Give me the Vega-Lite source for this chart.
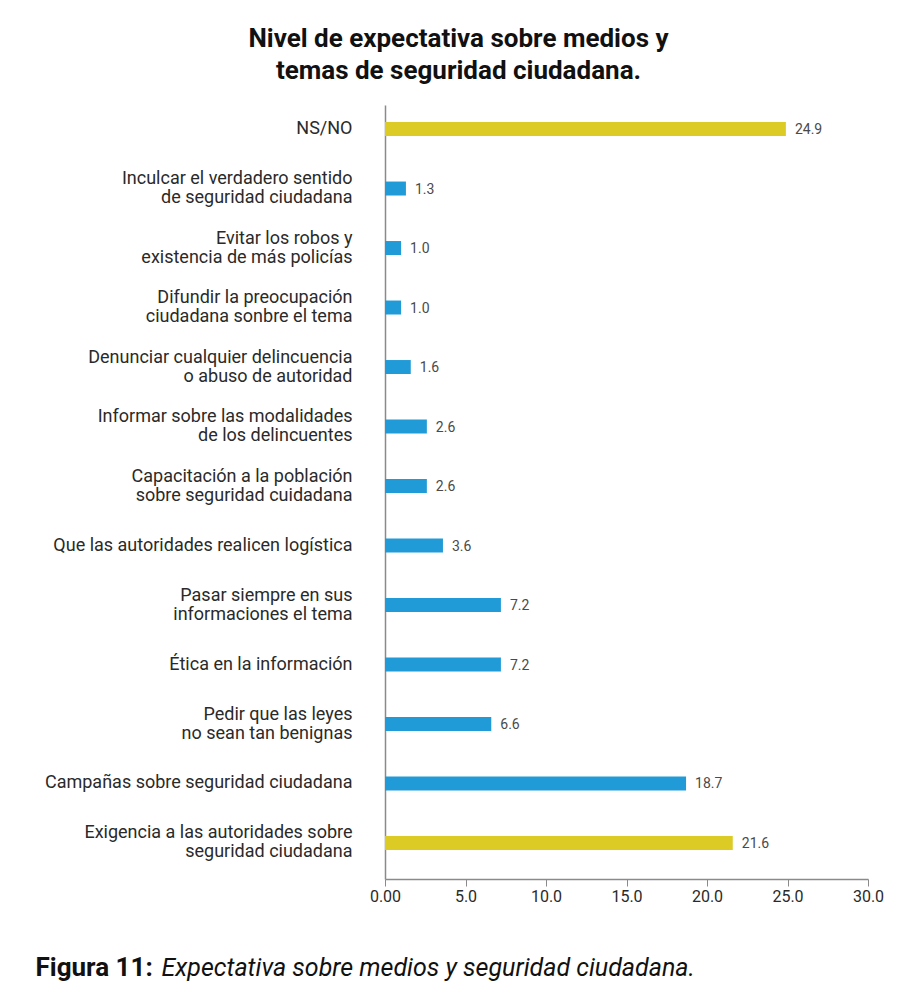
{
  "$schema": "https://vega.github.io/schema/vega-lite/v6.json",
  "autosize": {"type": "none"},
  "width": 483,
  "height": 774,
  "padding": {"left": 385, "top": 105, "right": 39, "bottom": 120},
  "background": "white",
  "config": {"font": "Roboto", "view": {"stroke": null}},
  "title": {
    "text": ["Nivel de expectativa sobre medios y", "temas de seguridad ciudadana."],
    "anchor": "middle",
    "frame": "group",
    "dx": -168,
    "offset": 21,
    "fontSize": 26,
    "fontWeight": "bold",
    "color": "#111111",
    "lineHeight": 32
  },
  "data": {
    "values": [
      {"label": "NS/NO", "value": 24.9, "group": "destacado"},
      {"label": "Inculcar el verdadero sentido|de seguridad ciudadana", "value": 1.3, "group": "normal"},
      {"label": "Evitar los robos y|existencia de más policías", "value": 1.0, "group": "normal"},
      {"label": "Difundir la preocupación|ciudadana sonbre el tema", "value": 1.0, "group": "normal"},
      {"label": "Denunciar cualquier delincuencia|o abuso de autoridad", "value": 1.6, "group": "normal"},
      {"label": "Informar sobre las modalidades|de los delincuentes", "value": 2.6, "group": "normal"},
      {"label": "Capacitación a la población|sobre seguridad cuidadana", "value": 2.6, "group": "normal"},
      {"label": "Que las autoridades realicen logística", "value": 3.6, "group": "normal"},
      {"label": "Pasar siempre en sus|informaciones el tema", "value": 7.2, "group": "normal"},
      {"label": "Ética en la información", "value": 7.2, "group": "normal"},
      {"label": "Pedir que las leyes|no sean tan benignas", "value": 6.6, "group": "normal"},
      {"label": "Campañas sobre seguridad ciudadana", "value": 18.7, "group": "normal"},
      {"label": "Exigencia a las autoridades sobre|seguridad ciudadana", "value": 21.6, "group": "destacado"}
    ]
  },
  "encoding": {
    "y": {
      "field": "label",
      "type": "nominal",
      "sort": null,
      "scale": {"paddingInner": 0.765, "paddingOuter": 0.387, "align": 0.37},
      "axis": {
        "title": "Expectativa sobre medios y seguridad ciudadana.",
        "titleAngle": 0,
        "titleX": -224,
        "titleY": 870,
        "titleAlign": "left",
        "titleBaseline": "alphabetic",
        "titleFontSize": 25,
        "titleFontStyle": "italic",
        "titleFontWeight": "normal",
        "titleColor": "#111111",
        "labelExpr": "split(datum.label, '|')",
        "labelOffset": {"condition": {"test": "indexof(datum.value, '|') >= 0", "value": -9.5}, "value": 0},
        "labelFontSize": 18,
        "labelLineHeight": 19,
        "labelColor": "#2a2a2a",
        "labelPadding": 33,
        "labelLimit": 400,
        "ticks": false,
        "domainColor": "#8a8a8a",
        "domainWidth": 1.5
      }
    },
    "x": {
      "field": "value",
      "type": "quantitative",
      "scale": {"domain": [0, 30], "nice": false},
      "axis": {
        "values": [0, 5, 10, 15, 20, 25, 30],
        "labelExpr": "datum.value == 0 ? '0.00' : format(datum.value, '.1f')",
        "labelFlush": false,
        "grid": false,
        "labelFontSize": 16,
        "labelColor": "#2a2a2a",
        "labelPadding": 2,
        "tickSize": 7,
        "tickColor": "#8a8a8a",
        "domainColor": "#8a8a8a",
        "domainWidth": 1.5,
        "title": "Figura 11:",
        "titleX": -350,
        "titleY": 96,
        "titleAlign": "left",
        "titleBaseline": "alphabetic",
        "titleFontSize": 26,
        "titleFontWeight": "bold",
        "titleColor": "#111111"
      }
    }
  },
  "layer": [
    {
      "mark": {"type": "bar"},
      "encoding": {
        "color": {
          "field": "group",
          "type": "nominal",
          "scale": {"domain": ["destacado", "normal"], "range": ["#ddcb25", "#209bd8"]},
          "legend": null
        }
      }
    },
    {
      "mark": {"type": "text", "align": "left", "baseline": "middle", "dx": 9, "dy": 1, "fontSize": 14, "color": "#4a4a4a"},
      "encoding": {
        "text": {"field": "value", "type": "quantitative", "format": ".1f"}
      }
    }
  ]
}
